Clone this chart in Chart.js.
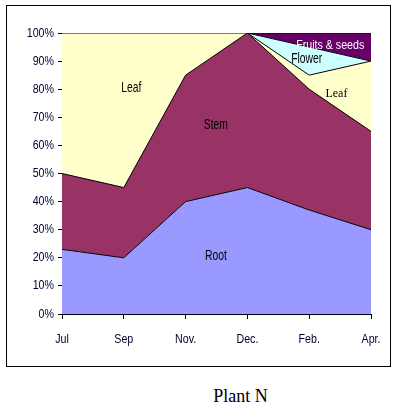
<!DOCTYPE html>
<html>
<head>
<meta charset="utf-8">
<script src="https://cdn.jsdelivr.net/npm/chart.js@4.4.0/dist/chart.umd.min.js"></script>
<style>
  body { margin: 0; background: #fff; width: 395px; height: 409px; position: relative; overflow: hidden; }
  #frame { position: absolute; left: 6px; top: 5px; width: 383px; height: 360px; border: 1px solid #000; }
  #title { position: absolute; left: 0; top: 386px; width: 481px; text-align: center;
           font-family: "Liberation Serif", "Times New Roman", serif; font-size: 18px; color: #000; }
</style>
</head>
<body>
<div id="frame"><canvas id="plantChart" width="383" height="360"></canvas></div>
<div id="title">Plant N</div>
<script>
var months = ['Jul', 'Sep', 'Nov.', 'Dec.', 'Feb.', 'Apr.'];
var root = [23, 20, 40, 45, 37, 30];
var stem = [27, 25, 45, 55, 43, 35];
var leaf = [50, 55, 15, 0, 5, 25];
var flower = [0, 0, 0, 0, 10, 0];
var fruits = [0, 0, 0, 0, 5, 10];

var sans = '13px "Liberation Sans", Arial';
var big = '15px "Liberation Sans", Arial';
// area labels: [text, category position, percent, colour, font, squeeze]
var areaLabels = [
    ['Leaf', 1.12, 80.4, '#000', big, 0.69],
    ['Stem', 2.49, 67.3, '#000', big, 0.69],
    ['Root', 2.49, 20.6, '#000', big, 0.69],
    ['Fruits & seeds', 4.34, 95.7, '#fff', sans, 0.82],
    ['Flower', 3.96, 90.7, '#000', big, 0.69],
    ['Leaf', 4.44, 78.3, '#000', '12px "Liberation Serif", "Times New Roman", serif', 1]
];

// the original uses a narrow sans; squeeze text horizontally
function narrowText(ctx, text, x, y, squeeze) {
    ctx.save();
    ctx.translate(x, y);
    ctx.scale(squeeze, 1);
    ctx.fillText(text, 0, 0);
    ctx.restore();
}

var labelPlugin = {
    id: 'areaLabels',
    afterDraw: function (chart) {
        var ctx = chart.ctx;
        var x = chart.scales.x, y = chart.scales.y;
        ctx.save();
        ctx.textBaseline = 'middle';
        ctx.textAlign = 'center';
        areaLabels.forEach(function (l) {
            ctx.font = l[4];
            ctx.fillStyle = l[3];
            narrowText(ctx, l[0], x.getPixelForValue(l[1]), y.getPixelForValue(l[2]), l[5]);
        });
        // tick labels
        ctx.font = sans;
        ctx.fillStyle = '#000033';
        ctx.textAlign = 'right';
        y.ticks.forEach(function (t) {
            narrowText(ctx, t.value + '%', x.left - 8, y.getPixelForValue(t.value), 0.82);
        });
        ctx.textAlign = 'center';
        months.forEach(function (m, i) {
            narrowText(ctx, m, x.getPixelForValue(i), y.bottom + 25, 0.82);
        });
        ctx.restore();
    }
};

function ds(label, data, color, fill) {
    return {
        label: label,
        data: data,
        backgroundColor: color,
        borderColor: '#000',
        borderWidth: 1,
        pointRadius: 0,
        tension: 0,
        fill: fill
    };
}

new Chart(document.getElementById('plantChart'), {
    type: 'line',
    data: {
        labels: months,
        datasets: [
            ds('Root', root, '#9999ff', 'origin'),
            ds('Stem', stem, '#993366', '-1'),
            ds('Leaf', leaf, '#ffffcc', '-1'),
            ds('Flower', flower, '#ccffff', '-1'),
            ds('Fruits & seeds', fruits, '#660066', '-1')
        ]
    },
    options: {
        responsive: false,
        animation: false,
        layout: { padding: { top: 27, right: 19, left: 0, bottom: 0 } },
        plugins: { legend: { display: false }, tooltip: { enabled: false } },
        scales: {
            x: {
                offset: false,
                grid: { drawOnChartArea: false, drawTicks: true, tickLength: 5, color: '#000' },
                border: { display: true, color: '#000' },
                ticks: { color: 'rgba(0,0,0,0)', maxRotation: 0 },
                afterFit: function (s) { s.height = 52; }
            },
            y: {
                stacked: true,
                min: 0,
                max: 100,
                grid: { drawOnChartArea: false, drawTicks: true, tickLength: 4, color: '#000' },
                border: { display: true, color: '#000' },
                ticks: { stepSize: 10, color: 'rgba(0,0,0,0)' },
                afterFit: function (s) { s.width = 55; }
            }
        }
    },
    plugins: [labelPlugin]
});
</script>
</body>
</html>
